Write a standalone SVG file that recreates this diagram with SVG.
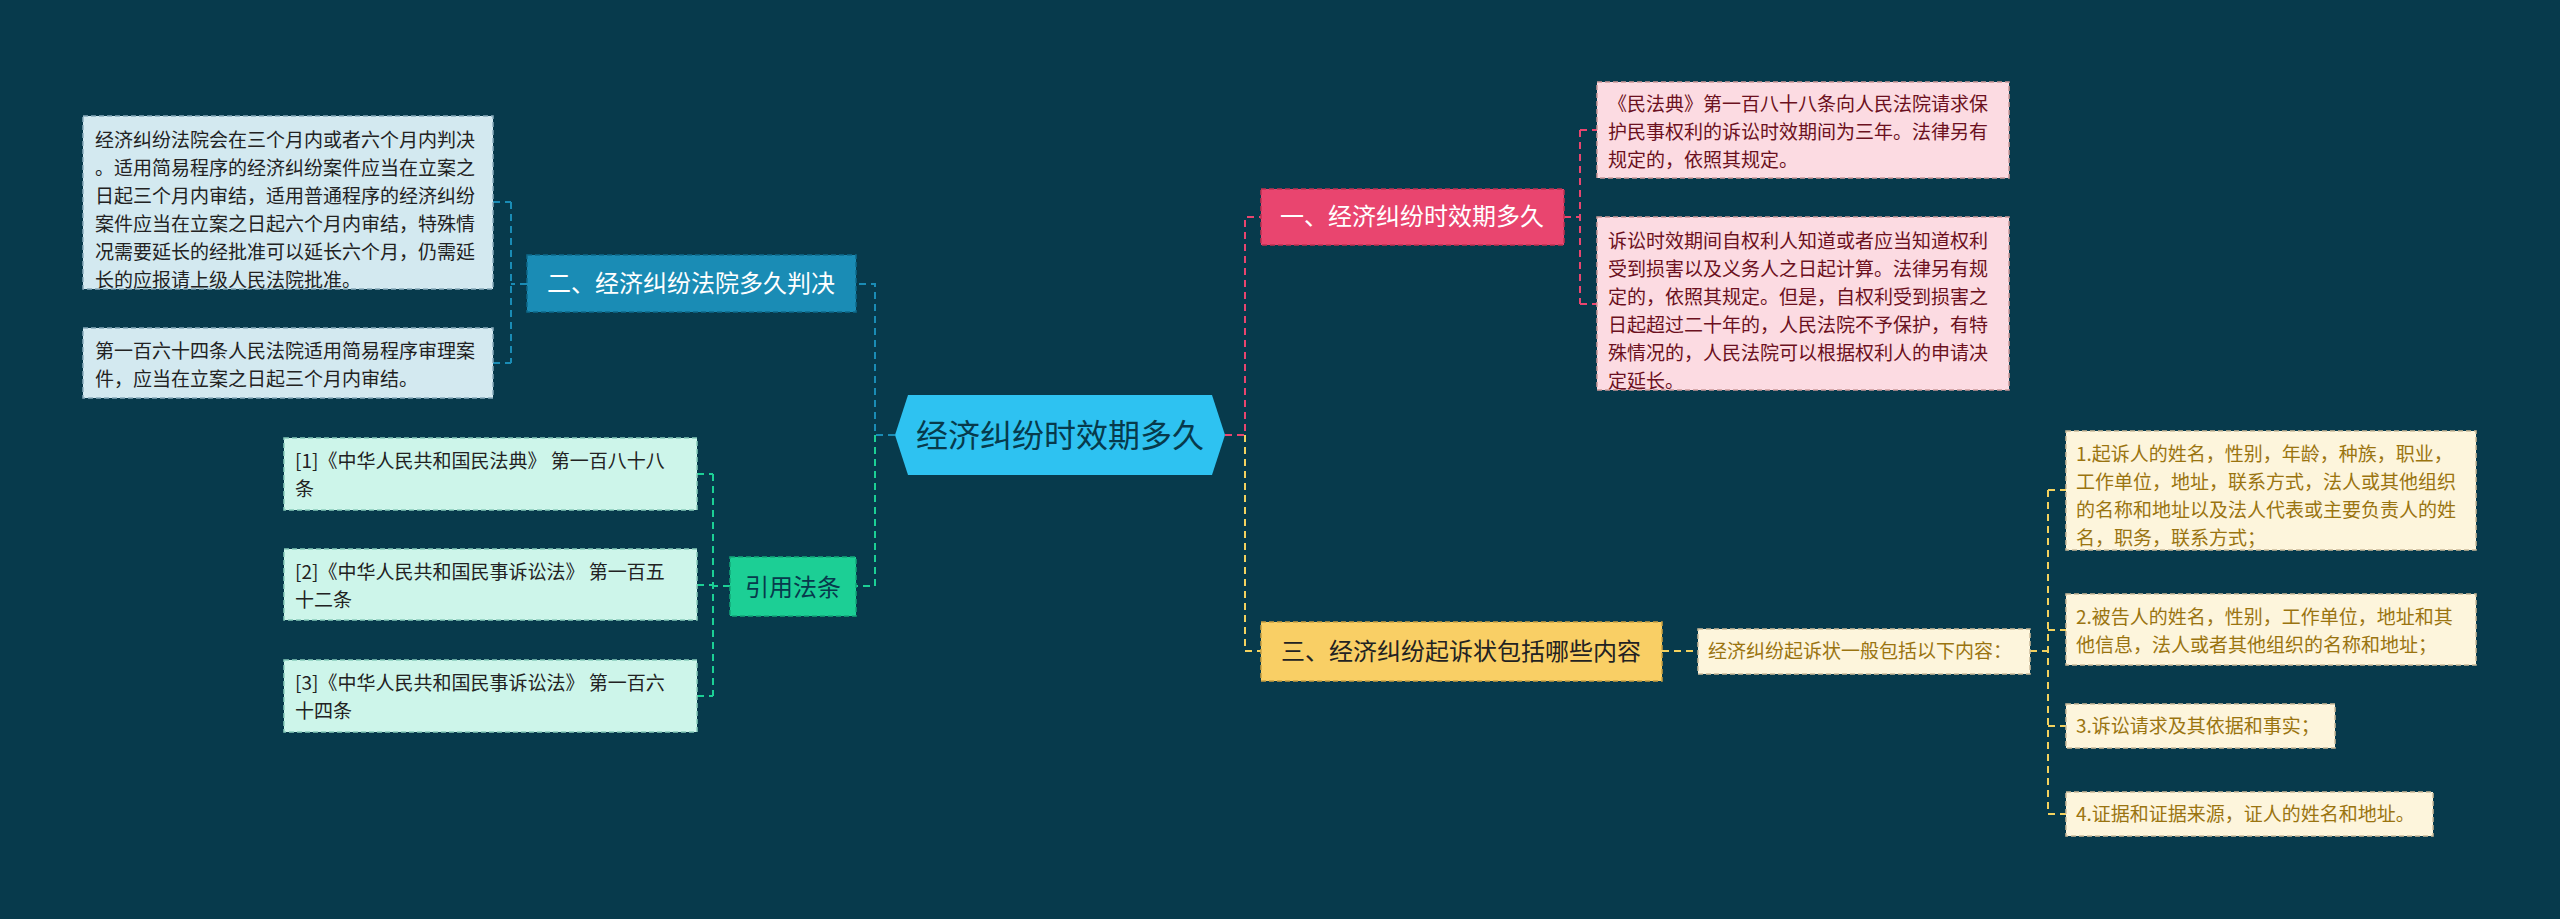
<svg xmlns="http://www.w3.org/2000/svg" width="2560" height="919" viewBox="0 0 2560 919">
<style>
text{font-family:"Noto Sans CJK SC","Liberation Sans",sans-serif}
.b{stroke-width:1.5;stroke-dasharray:5 3}
.c{fill:none;stroke-width:2;stroke-dasharray:7 5}
.s{font-size:19px}
</style>
<rect width="2560" height="919" fill="#073a4c"/>
<g id="connectors">
<path class="c" stroke="#e9456f" d="M1225 435H1245V217H1261"/>
<path class="c" stroke="#f3d15f" d="M1245 435V651H1261"/>
<path class="c" stroke="#1a8cb5" d="M895 435H875V284H856"/>
<path class="c" stroke="#1ccf95" d="M875 435V586H856"/>
<path class="c" stroke="#1a8cb5" d="M527 284H511M511 202V363M493 202H511M493 363H511"/>
<path class="c" stroke="#1ccf95" d="M730 586H713M713 474V696M697 474H713M697 585H713M697 696H713"/>
<path class="c" stroke="#e9456f" d="M1564 217H1580M1580 130V304M1580 130H1597M1580 304H1597"/>
<path class="c" stroke="#f3d15f" d="M1662 651H1698M2030 651H2048M2048 490V814M2048 490H2066M2048 630H2066M2048 726H2066M2048 814H2066"/>
</g>
<g id="center"><polygon points="895,435 908,395 1212,395 1225,435 1212,475 908,475" fill="#2ec2f1"/><text x="1060" y="447" font-size="32" fill="#073a4c" text-anchor="middle">经济纠纷时效期多久</text></g>
<g id="n2"><rect x="527" y="255" width="329" height="57" fill="#1a8cb5" class="b" stroke="#0e6a8a"/><text x="691" y="292" font-size="24" fill="#fff" text-anchor="middle">二、经济纠纷法院多久判决</text></g>
<g id="n2a"><rect x="83" y="116" width="410" height="173" fill="#d3e9f0" class="b" stroke="#8ab"/><text class="s" fill="#222" x="95"><tspan y="147">经济纠纷法院会在三个月内或者六个月内判决</tspan><tspan x="95" y="175">。适用简易程序的经济纠纷案件应当在立案之</tspan><tspan x="95" y="203">日起三个月内审结，适用普通程序的经济纠纷</tspan><tspan x="95" y="231">案件应当在立案之日起六个月内审结，特殊情</tspan><tspan x="95" y="259">况需要延长的经批准可以延长六个月，仍需延</tspan><tspan x="95" y="287">长的应报请上级人民法院批准。</tspan></text></g>
<g id="n2b"><rect x="83" y="328" width="410" height="70" fill="#d3e9f0" class="b" stroke="#8ab"/><text class="s" fill="#222" x="95"><tspan y="358">第一百六十四条人民法院适用简易程序审理案</tspan><tspan x="95" y="386">件，应当在立案之日起三个月内审结。</tspan></text></g>
<g id="ref"><rect x="730" y="557" width="126" height="59" fill="#1ccf95" class="b" stroke="#12a878"/><text x="793" y="596" font-size="24" fill="#073a4c" text-anchor="middle">引用法条</text></g>
<g id="ref1"><rect x="284" y="438" width="413" height="72" fill="#cdf5ea" class="b" stroke="#8cb"/><text class="s" fill="#222" x="295"><tspan y="468">[1]《中华人民共和国民法典》 第一百八十八</tspan><tspan x="295" y="496">条</tspan></text></g>
<g id="ref2"><rect x="284" y="549" width="413" height="71" fill="#cdf5ea" class="b" stroke="#8cb"/><text class="s" fill="#222" x="295"><tspan y="579">[2]《中华人民共和国民事诉讼法》 第一百五</tspan><tspan x="295" y="607">十二条</tspan></text></g>
<g id="ref3"><rect x="284" y="660" width="413" height="72" fill="#cdf5ea" class="b" stroke="#8cb"/><text class="s" fill="#222" x="295"><tspan y="690">[3]《中华人民共和国民事诉讼法》 第一百六</tspan><tspan x="295" y="718">十四条</tspan></text></g>
<g id="n1"><rect x="1261" y="189" width="303" height="56" fill="#e9456f" class="b" stroke="#c03050"/><text x="1412" y="225" font-size="24" fill="#fff" text-anchor="middle">一、经济纠纷时效期多久</text></g>
<g id="n1a"><rect x="1597" y="82" width="412" height="96" fill="#fcdbe2" class="b" stroke="#c99"/><text class="s" fill="#6b1020" x="1608"><tspan y="111">《民法典》第一百八十八条向人民法院请求保</tspan><tspan x="1608" y="139">护民事权利的诉讼时效期间为三年。法律另有</tspan><tspan x="1608" y="167">规定的，依照其规定。</tspan></text></g>
<g id="n1b"><rect x="1597" y="217" width="412" height="173" fill="#fcdbe2" class="b" stroke="#c99"/><text class="s" fill="#6b1020" x="1608"><tspan y="248">诉讼时效期间自权利人知道或者应当知道权利</tspan><tspan x="1608" y="276">受到损害以及义务人之日起计算。法律另有规</tspan><tspan x="1608" y="304">定的，依照其规定。但是，自权利受到损害之</tspan><tspan x="1608" y="332">日起超过二十年的，人民法院不予保护，有特</tspan><tspan x="1608" y="360">殊情况的，人民法院可以根据权利人的申请决</tspan><tspan x="1608" y="388">定延长。</tspan></text></g>
<g id="n3"><rect x="1261" y="622" width="401" height="59" fill="#f9cf65" class="b" stroke="#c9a040"/><text x="1461" y="660" font-size="24" fill="#222" text-anchor="middle">三、经济纠纷起诉状包括哪些内容</text></g>
<g id="n3m"><rect x="1698" y="629" width="332" height="45" fill="#fdf5dc" class="b" stroke="#cb9"/><text class="s" fill="#9a7410" x="1708" y="658">经济纠纷起诉状一般包括以下内容：</text></g>
<g id="y1"><rect x="2066" y="431" width="410" height="119" fill="#fdf5dc" class="b" stroke="#cb9"/><text class="s" fill="#9a7410" x="2076"><tspan y="461">1.起诉人的姓名，性别，年龄，种族，职业，</tspan><tspan x="2076" y="489">工作单位，地址，联系方式，法人或其他组织</tspan><tspan x="2076" y="517">的名称和地址以及法人代表或主要负责人的姓</tspan><tspan x="2076" y="545">名，职务，联系方式；</tspan></text></g>
<g id="y2"><rect x="2066" y="594" width="410" height="71" fill="#fdf5dc" class="b" stroke="#cb9"/><text class="s" fill="#9a7410" x="2076"><tspan y="624">2.被告人的姓名，性别，工作单位，地址和其</tspan><tspan x="2076" y="652">他信息，法人或者其他组织的名称和地址；</tspan></text></g>
<g id="y3"><rect x="2066" y="704" width="269" height="44" fill="#fdf5dc" class="b" stroke="#cb9"/><text class="s" fill="#9a7410" x="2076" y="733">3.诉讼请求及其依据和事实；</text></g>
<g id="y4"><rect x="2066" y="792" width="367" height="44" fill="#fdf5dc" class="b" stroke="#cb9"/><text class="s" fill="#9a7410" x="2076" y="821">4.证据和证据来源，证人的姓名和地址。</text></g>
</svg>
